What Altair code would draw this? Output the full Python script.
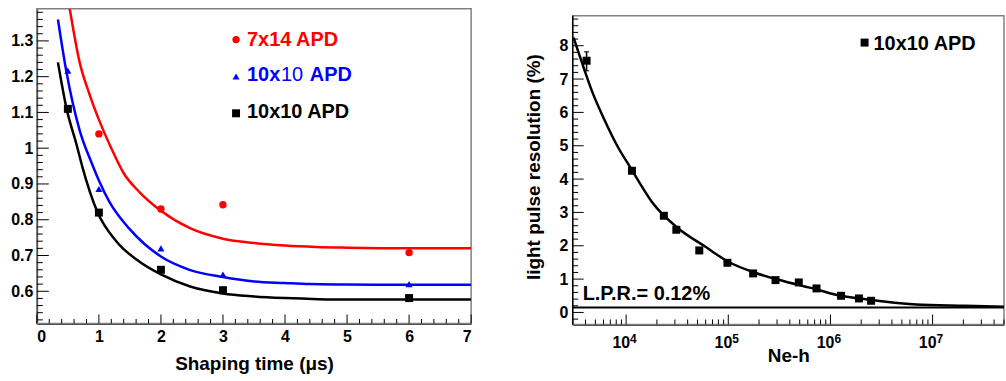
import altair as alt
import pandas as pd

FONT = "Liberation Sans"

# ---------------- left panel: resolution vs shaping time ----------------
red_pts_x = [1, 2, 3, 6]
red_pts_y = [1.04, 0.83, 0.842, 0.708]
blue_pts_x = [0.5, 1, 2, 3, 6]
blue_pts_y = [1.217, 0.886, 0.72, 0.647, 0.62]
black_pts_x = [0.5, 1, 2, 3, 6]
black_pts_y = [1.11, 0.82, 0.66, 0.603, 0.581]

red_fit_x = [0.53, 0.69, 0.85, 1.0, 1.2, 1.4, 1.65, 2.0, 2.46, 3.0, 3.5, 4.0, 4.5, 5.0, 6.0, 7.0]
red_fit_y = [1.39, 1.24, 1.15, 1.08, 1.0, 0.93, 0.878, 0.825, 0.777, 0.747, 0.735, 0.728, 0.724, 0.722, 0.72, 0.72]
blue_fit_x = [0.34, 0.47, 0.69, 0.88, 1.0, 1.17, 1.49, 2.0, 2.46, 3.0, 3.47, 4.0, 4.4, 5.0, 6.0, 7.0]
blue_fit_y = [1.36, 1.22, 1.05, 0.96, 0.91, 0.85, 0.775, 0.697, 0.66, 0.64, 0.628, 0.623, 0.62, 0.619, 0.618, 0.618]
black_fit_x = [0.34, 0.48, 0.64, 0.73, 0.98, 1.28, 1.65, 2.0, 2.46, 3.0, 3.47, 4.0, 4.54, 5.0, 6.0, 7.0]
black_fit_y = [1.24, 1.11, 1.01, 0.95, 0.82, 0.74, 0.683, 0.647, 0.614, 0.594, 0.586, 0.581, 0.578, 0.577, 0.577, 0.577]

left_x_major = [0, 1, 2, 3, 4, 5, 6, 7]
left_y_major = [0.6, 0.7, 0.8, 0.9, 1.0, 1.1, 1.2, 1.3]

# ---------------- right panel: light pulse resolution vs Ne-h ----------------
neh_pts = [4100, 11400, 23400, 31000, 52000, 98000, 175000, 290000, 490000, 730000, 1270000, 1900000, 2500000]
lpr_pts = [7.55, 4.25, 2.9, 2.48, 1.86, 1.49, 1.17, 0.97, 0.9, 0.72, 0.5, 0.42, 0.35]
err_lo = [7.25]
err_hi = [7.82]
err_x = [4100]

neh_fit = [3060, 3900, 4680, 6110, 8180, 11400, 13400, 17900, 32700, 59800, 100000, 183000, 310000,
           560000, 740000, 1100000, 2300000, 6900000, 21000000, 50000000]
lpr_fit = [8.24, 7.28, 6.6, 5.79, 5.0, 4.27, 3.91, 3.31, 2.51, 1.97, 1.52, 1.19, 0.98,
           0.78, 0.69, 0.54, 0.39, 0.24, 0.2, 0.17]
lpr_const = [0.15]

right_x_major = [1e4, 1e5, 1e6, 1e7]
right_x_exp = ["4", "5", "6", "7"]
right_y_major = [0, 1, 2, 3, 4, 5, 6, 7, 8]

LW, LH = 436, 316
RW, RH = 433, 317
RTOP = 7          # right frame starts 7 px below the shared top
FRAME = "#808080"

lx = alt.Scale(domain=[0, 7], nice=False, zero=False)
ly = alt.Scale(domain=[0.51, 1.39], nice=False, zero=False)
rx = alt.Scale(type="log", domain=[3000, 5e7], nice=False)
ry = alt.Scale(domain=[-0.36, 9.11], nice=False, zero=False)

lx_axis = alt.Axis(values=left_x_major, format="d", labelPadding=5, titlePadding=10)
ly_axis = alt.Axis(values=left_y_major, format="~g", labelPadding=4)
rx_axis = alt.Axis(values=right_x_major, labels=False, titlePadding=22)
ry_axis = alt.Axis(values=right_y_major, format="d", labelPadding=5, titlePadding=15, domain=False)

AX = {
    "L": (lambda: alt.X("x:Q", scale=lx, title="Shaping time (\u03bcs)", axis=lx_axis),
          lambda: alt.Y("y:Q", scale=ly, title=None, axis=ly_axis)),
    "R": (lambda: alt.X("x:Q", scale=rx, title="Ne-h", axis=rx_axis),
          lambda: alt.Y("y:Q", scale=ry, title="light pulse resolution (%)", axis=ry_axis)),
}


def df(**kw):
    return pd.DataFrame(kw)


def fit_line(p, xs, ys, color):
    return alt.Chart(df(x=xs, y=ys)).mark_line(
        color=color, strokeWidth=2.5, clip=True, interpolate="monotone").encode(
        x=AX[p][0](), y=AX[p][1]())


def pts(p, xs, ys, color, shape, size):
    return alt.Chart(df(x=xs, y=ys)).mark_point(
        filled=True, color=color, shape=shape, size=size, opacity=1).encode(
        x=AX[p][0](), y=AX[p][1]())


def xticks(p, vals, length, h):
    return alt.Chart(df(x=vals)).mark_rule(color="black", strokeWidth=1).encode(
        x=AX[p][0](), y=alt.value(h), y2=alt.value(h - length))


def yticks(p, vals, length):
    return alt.Chart(df(y=vals)).mark_rule(color="black", strokeWidth=1).encode(
        y=AX[p][1](), x=alt.value(0), x2=alt.value(length))


def frame(w, top, h):
    return alt.Chart(df(a=[0])).mark_rect(fillOpacity=0, stroke=FRAME, strokeWidth=1.5).encode(
        x=alt.value(0), x2=alt.value(w), y=alt.value(top), y2=alt.value(h))


def vline(top, h):
    return alt.Chart(df(a=[0])).mark_rule(color="black", strokeWidth=1.5).encode(
        x=alt.value(0), y=alt.value(top), y2=alt.value(h))


def leg_marker(x, y, color, shape, size):
    return alt.Chart(df(a=[0])).mark_point(filled=True, color=color, shape=shape, size=size, opacity=1).encode(
        x=alt.value(x), y=alt.value(y))


def leg_text(x, y, text, color, weight="bold", size=20):
    return alt.Chart(df(a=[0])).mark_text(
        text=text, color=color, font=FONT, fontWeight=weight, fontSize=size,
        align="left", baseline="middle").encode(x=alt.value(x), y=alt.value(y))


left_minor_x = [round(i * 0.2, 2) for i in range(36) if i % 5 != 0]
left_minor_y = [round(0.52 + i * 0.02, 2) for i in range(44)]
left_minor_y = [v for v in left_minor_y if abs(v * 10 - round(v * 10)) > 1e-6]

left = alt.layer(
    frame(LW, 0, LH),
    fit_line("L", black_fit_x, black_fit_y, "black"),
    fit_line("L", blue_fit_x, blue_fit_y, "#0000ff"),
    fit_line("L", red_fit_x, red_fit_y, "#ff0000"),
    pts("L", red_pts_x, red_pts_y, "#ff0000", "circle", 55),
    pts("L", blue_pts_x, blue_pts_y, "#0000ff", "triangle-up", 50),
    pts("L", black_pts_x, black_pts_y, "black", "square", 64),
    xticks("L", left_x_major, 9, LH),
    xticks("L", left_minor_x, 4.5, LH),
    yticks("L", left_y_major, 12),
    yticks("L", left_minor_y, 6),
    leg_marker(200, 31, "#ff0000", "circle", 55),
    leg_text(211, 31, "7x14 APD", "#ff0000"),
    leg_marker(200, 68, "#0000ff", "triangle-up", 50),
    leg_text(211, 67, "10x", "#0000ff"),
    leg_text(245, 67, "10", "#0000ff", weight="normal"),
    leg_text(274, 67, "APD", "#0000ff"),
    leg_marker(200, 105, "black", "square", 64),
    leg_text(211, 104, "10x10 APD", "black"),
).properties(width=LW, height=LH)

# right panel
hline = alt.Chart(df(y=lpr_const)).mark_rule(color="black", strokeWidth=2).encode(
    y=AX["R"][1](), x=alt.value(0), x2=alt.value(RW))

errbar = alt.Chart(df(x=err_x, y=err_lo, hi=err_hi)).mark_rule(color="black", strokeWidth=1.5).encode(
    x=AX["R"][0](), y=AX["R"][1](), y2="hi:Q")
errcap = alt.Chart(df(x=err_x * 2, y=err_lo + err_hi)).mark_tick(
    color="black", thickness=1.5, size=5, orient="horizontal").encode(
    x=AX["R"][0](), y=AX["R"][1]())

right_minor_x = [m * 10 ** e for e in range(3, 8) for m in range(2, 10) if 3000 <= m * 10 ** e <= 5e7]
right_minor_y = [round(-0.2 + i * 0.2, 2) for i in range(46)]
right_minor_y = [v for v in right_minor_y if abs(v - round(v)) > 1e-6 and v < 8.9]

xlab_df = df(x=right_x_major, e=right_x_exp)
xlab_base = alt.Chart(xlab_df).mark_text(
    text="10", font=FONT, fontWeight="bold", fontSize=16, align="right", baseline="alphabetic",
    dx=4, color="black").encode(x=AX["R"][0](), y=alt.value(RH + 24))
xlab_exp = alt.Chart(xlab_df).mark_text(
    font=FONT, fontWeight="bold", fontSize=12, align="left", baseline="alphabetic",
    dx=4, color="black").encode(x=AX["R"][0](), y=alt.value(RH + 19), text="e:N")

right = alt.layer(
    frame(RW, RTOP, RH),
    vline(RTOP, RH),
    fit_line("R", neh_fit, lpr_fit, "black"),
    hline,
    errbar,
    errcap,
    pts("R", neh_pts, lpr_pts, "black", "square", 64),
    xticks("R", right_x_major, 10, RH),
    xticks("R", right_minor_x, 5, RH),
    yticks("R", right_y_major, 11),
    yticks("R", right_minor_y, 5.5),
    xlab_base,
    xlab_exp,
    leg_marker(293, 34, "black", "square", 64),
    leg_text(302, 35, "10x10 APD", "black"),
    leg_text(10, 286, "L.P.R.= 0.12%", "black"),
).properties(width=RW, height=RH)

chart = alt.hconcat(left, right, spacing=51).properties(
    padding={"left": 10, "top": 6, "right": 0, "bottom": 0},
    background="white",
).configure_view(stroke="transparent").configure_axis(
    grid=False, ticks=False, domainColor="black", domainWidth=1.5,
    labelFont=FONT, labelFontWeight="bold", labelFontSize=16, labelColor="black",
    titleFont=FONT, titleFontWeight="bold", titleFontSize=19, titleColor="black",
)

chart.save("out.html", embed_options={"renderer": "svg", "actions": False})
